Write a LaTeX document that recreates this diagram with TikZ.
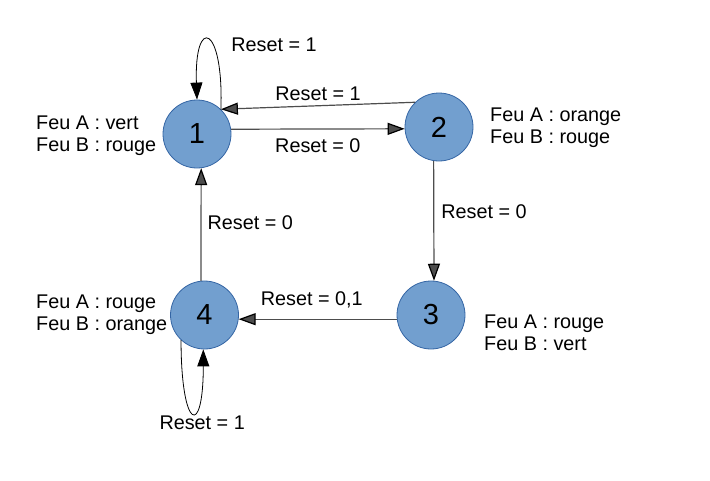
\documentclass[tikz,border=0pt]{standalone}
\usepackage{fontspec}
\setmainfont{Liberation Sans}
\usetikzlibrary{arrows.meta}
\definecolor{fondEtat}{HTML}{729FCF}
\definecolor{bordEtat}{HTML}{3465A4}
\definecolor{gris}{HTML}{4D4D4D}

\begin{document}
\begin{tikzpicture}[x=1pt, y=-1pt,
  >={Triangle[length=17pt,width=12pt,color=black]},
  etat/.style={circle, draw=bordEtat, fill=fondEtat, line width=0.8pt, minimum size=68pt, inner sep=0pt, font=\fontsize{29}{31}\selectfont},
  reset/.style={font=\fontsize{19.8}{22}\selectfont, text=black, inner sep=0pt},
  feux/.style={reset, align=left, anchor=west},
  trans/.style={->, color=gris, line width=1.2pt},
  boucle/.style={->, color=black, line width=0.8pt}]
  \useasboundingbox (0,0) rectangle (710,480);

  % etats
  \node[etat] (s1) at (197,134) {1};
  \node[etat] (s2) at (439,127) {2};
  \node[etat] (s3) at (431,315) {3};
  \node[etat] (s4) at (204.5,315) {4};

  % feux
  \node[feux] (f1) at (36,136) {Feu A : vert\\Feu B : rouge};
  \node[feux] (f2) at (490,128) {Feu A : orange\\Feu B : rouge};
  \node[feux] (f3) at (484,333) {Feu A : rouge\\Feu B : vert};
  \node[feux] (f4) at (36,315) {Feu A : rouge\\Feu B : orange};

  % transitions
  \path[trans]
  (s1.8)   edge node[reset, below=9pt] (r12) {Reset = 0} (s2.183)
  (s2.134) edge node[reset, above=4pt] (r21) {Reset = 1} (s1.46)
  (s2.261) edge node[reset, right=7pt, yshift=9pt] (r23) {Reset = 0} (s3.85)
  (s3.187) edge node[reset, above=11pt, xshift=-6pt] (r34) {Reset = 0,1} (s4.353)
  (s4.96)  edge node[reset, right=6pt, yshift=2pt] (r41) {Reset = 0} (s1.277)
;
  \draw[boucle] (s1.46) .. controls +(-88:85) and +(-92:85) .. (s1.90)
    node[reset, pos=.5, anchor=west, xshift=22pt, yshift=-4pt] (r11) {Reset = 1};
  \draw[boucle] (s4.227) .. controls +(90:90) and +(90:90) .. (s4.268)
    node[reset, pos=.5, anchor=north, xshift=10pt, yshift=-3pt] (r44) {Reset = 1};
\end{tikzpicture}
\end{document}
